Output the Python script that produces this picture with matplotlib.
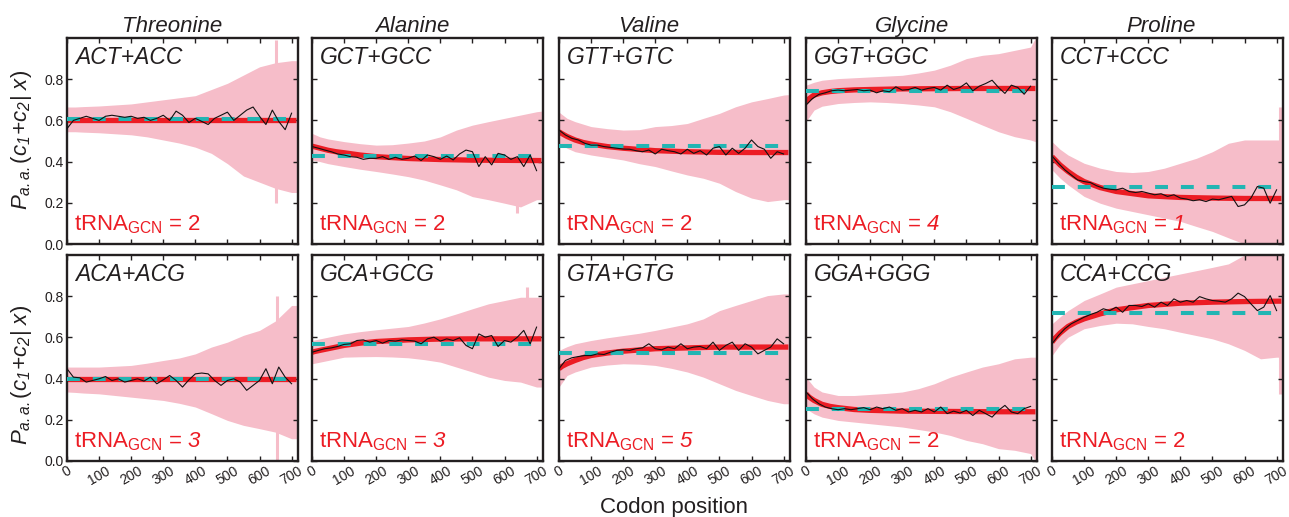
import matplotlib
matplotlib.use("Agg")
import matplotlib.pyplot as plt
import numpy as np

plt.rcParams["font.family"] = ["Liberation Sans", "DejaVu Sans"]
plt.rcParams["mathtext.fontset"] = "custom"
# digits in math fall back to the "rm" font, so rm is italic here and sf is upright
plt.rcParams["mathtext.rm"] = "Liberation Sans:italic"
plt.rcParams["mathtext.it"] = "Liberation Sans:italic"
plt.rcParams["mathtext.sf"] = "Liberation Sans"
plt.rcParams["mathtext.bf"] = "Liberation Sans:bold"

# ---- data ----
AMINO = ["Threonine", "Alanine", "Valine", "Glycine", "Proline"]
CODONS_TOP = ["ACT+ACC", "GCT+GCC", "GTT+GTC", "GGT+GGC", "CCT+CCC"]
CODONS_BOT = ["ACA+ACG", "GCA+GCG", "GTA+GTG", "GGA+GGG", "CCA+CCG"]
GCN_TOP = [2, 2, 2, 4, 1]
GCN_BOT = [3, 3, 5, 2, 2]
UNIFORM_TOP = [0.605, 0.427, 0.476, 0.744, 0.276]
UNIFORM_BOT = [0.396, 0.569, 0.525, 0.254, 0.718]

MEAN_X = np.arange(0, 701, 20)
BAND_X = [0, 25, 50, 100, 150, 200, 250, 300, 350, 400, 450, 500, 550, 600, 650, 700, 715]
FIT_X = [0, 10, 25, 50, 75, 100, 150, 200, 300, 400, 500, 600, 715]

# Threonine ACT+ACC
THR1_MEAN = [0.56, 0.60, 0.61, 0.62, 0.61, 0.60, 0.62, 0.625, 0.62, 0.615, 0.62, 0.61,
             0.615, 0.60, 0.61, 0.625, 0.60, 0.645, 0.625, 0.59, 0.61, 0.595, 0.58, 0.61,
             0.625, 0.64, 0.60, 0.625, 0.65, 0.665, 0.62, 0.58, 0.65, 0.595, 0.555, 0.635]
THR1_FIT = [0.60] * 13
THR1_HI = [0.665, 0.665, 0.667, 0.67, 0.675, 0.68, 0.69, 0.70, 0.71, 0.72, 0.75, 0.78,
           0.82, 0.86, 0.88, 0.89, 0.89]
THR1_LO = [0.545, 0.545, 0.543, 0.54, 0.535, 0.53, 0.52, 0.505, 0.49, 0.47, 0.44, 0.39,
           0.33, 0.30, 0.27, 0.25, 0.25]
THR1_SPIKES = [(650, 0.20, 0.99)]

# Alanine GCT+GCC
ALA1_MEAN = [0.473, 0.465, 0.456, 0.448, 0.437, 0.432, 0.424, 0.421, 0.411, 0.416, 0.416,
             0.424, 0.411, 0.421, 0.411, 0.416, 0.427, 0.405, 0.432, 0.424, 0.411, 0.427,
             0.408, 0.437, 0.456, 0.448, 0.376, 0.424, 0.384, 0.44, 0.432, 0.411, 0.424,
             0.376, 0.432, 0.356]
ALA1_FIT = [0.475, 0.471, 0.465, 0.455, 0.448, 0.443, 0.432, 0.424, 0.415, 0.41, 0.407,
            0.406, 0.405]
ALA1_HI = [0.537, 0.52, 0.51, 0.497, 0.487, 0.48, 0.482, 0.49, 0.50, 0.52, 0.553, 0.577,
           0.594, 0.61, 0.626, 0.642, 0.645]
ALA1_LO = [0.408, 0.40, 0.39, 0.376, 0.363, 0.352, 0.34, 0.327, 0.31, 0.287, 0.263, 0.23,
           0.215, 0.198, 0.18, 0.215, 0.215]
ALA1_SPIKES = [(640, 0.15, 0.60)]

# Valine GTT+GTC
VAL1_MEAN = [0.553, 0.529, 0.513, 0.505, 0.489, 0.48, 0.48, 0.473, 0.469, 0.465, 0.461,
             0.46, 0.453, 0.448, 0.456, 0.437, 0.46, 0.453, 0.448, 0.437, 0.46, 0.44,
             0.453, 0.432, 0.465, 0.473, 0.432, 0.465, 0.44, 0.465, 0.505, 0.473, 0.46,
             0.416, 0.448, 0.437]
VAL1_FIT = [0.545, 0.535, 0.522, 0.505, 0.493, 0.485, 0.473, 0.465, 0.453, 0.448, 0.445,
            0.444, 0.444]
VAL1_HI = [0.64, 0.61, 0.594, 0.57, 0.56, 0.553, 0.555, 0.57, 0.575, 0.585, 0.61, 0.634,
           0.666, 0.69, 0.706, 0.723, 0.725]
VAL1_LO = [0.489, 0.465, 0.448, 0.432, 0.42, 0.408, 0.39, 0.376, 0.355, 0.335, 0.319,
           0.295, 0.255, 0.223, 0.206, 0.215, 0.215]
VAL1_SPIKES = []

# Glycine GGT+GGC
GLY1_MEAN = [0.674, 0.706, 0.726, 0.734, 0.744, 0.747, 0.744, 0.747, 0.75, 0.744, 0.747,
             0.734, 0.744, 0.739, 0.763, 0.747, 0.75, 0.76, 0.747, 0.755, 0.76, 0.747,
             0.771, 0.75, 0.76, 0.782, 0.744, 0.766, 0.779, 0.795, 0.76, 0.731, 0.771,
             0.76, 0.727, 0.766]
GLY1_FIT = [0.69, 0.706, 0.723, 0.734, 0.740, 0.744, 0.748, 0.75, 0.753, 0.754, 0.755,
            0.755, 0.755]
GLY1_HI = [0.771, 0.785, 0.795, 0.803, 0.807, 0.811, 0.815, 0.819, 0.83, 0.844, 0.868,
           0.90, 0.916, 0.924, 0.94, 0.956, 1.0]
GLY1_LO = [0.594, 0.65, 0.669, 0.682, 0.687, 0.69, 0.687, 0.682, 0.675, 0.666, 0.642,
           0.61, 0.577, 0.545, 0.521, 0.505, 0.497]
GLY1_SPIKES = []

# Proline CCT+CCC
PRO1_MEAN = [0.427, 0.392, 0.36, 0.335, 0.311, 0.303, 0.298, 0.282, 0.271, 0.266, 0.263,
             0.271, 0.255, 0.25, 0.255, 0.247, 0.239, 0.244, 0.231, 0.239, 0.223, 0.218,
             0.21, 0.215, 0.206, 0.218, 0.215, 0.223, 0.231, 0.182, 0.19, 0.223, 0.279,
             0.271, 0.198, 0.263]
PRO1_FIT = [0.424, 0.408, 0.384, 0.352, 0.325, 0.303, 0.274, 0.255, 0.234, 0.226, 0.223,
            0.221, 0.221]
PRO1_HI = [0.497, 0.46, 0.432, 0.392, 0.368, 0.352, 0.347, 0.352, 0.368, 0.392, 0.416,
           0.448, 0.489, 0.505, 0.505, 0.505, 0.505]
PRO1_LO = [0.36, 0.32, 0.287, 0.231, 0.198, 0.174, 0.158, 0.142, 0.126, 0.11, 0.085,
           0.061, 0.03, 0.0, 0.0, 0.0, 0.0]
PRO1_SPIKES = [(712, 0.0, 0.666)]

# Threonine ACA+ACG
THR2_MEAN = [0.448, 0.407, 0.404, 0.383, 0.391, 0.399, 0.41, 0.391, 0.399, 0.383, 0.391,
             0.399, 0.388, 0.407, 0.375, 0.394, 0.415, 0.391, 0.359, 0.394, 0.423, 0.427,
             0.423, 0.391, 0.367, 0.391, 0.399, 0.383, 0.343, 0.367, 0.391, 0.448, 0.375,
             0.456, 0.407, 0.375]
THR2_FIT = [0.40] * 13
THR2_HI = [0.456, 0.456, 0.456, 0.456, 0.46, 0.464, 0.475, 0.488, 0.50, 0.52, 0.553,
           0.577, 0.61, 0.634, 0.68, 0.755, 0.755]
THR2_LO = [0.335, 0.333, 0.33, 0.326, 0.318, 0.31, 0.302, 0.294, 0.28, 0.262, 0.23,
           0.197, 0.173, 0.157, 0.14, 0.108, 0.108]
THR2_SPIKES = [(655, 0.0, 0.80)]

# Alanine GCA+GCG
ALA2_MEAN = [0.528, 0.537, 0.545, 0.549, 0.556, 0.566, 0.569, 0.585, 0.588, 0.577, 0.585,
             0.572, 0.585, 0.582, 0.588, 0.585, 0.582, 0.569, 0.593, 0.601, 0.582, 0.593,
             0.585, 0.598, 0.561, 0.545, 0.617, 0.601, 0.609, 0.556, 0.585, 0.577, 0.601,
             0.634, 0.569, 0.65]
ALA2_FIT = [0.528, 0.532, 0.537, 0.545, 0.553, 0.561, 0.572, 0.58, 0.588, 0.592, 0.593,
            0.593, 0.593]
ALA2_HI = [0.585, 0.593, 0.601, 0.617, 0.628, 0.637, 0.645, 0.653, 0.67, 0.69, 0.714,
           0.739, 0.763, 0.779, 0.795, 0.795, 0.795]
ALA2_LO = [0.472, 0.48, 0.488, 0.504, 0.506, 0.507, 0.505, 0.501, 0.492, 0.48, 0.456,
           0.432, 0.407, 0.391, 0.383, 0.359, 0.359]
ALA2_SPIKES = [(670, 0.38, 0.844)]

# Valine GTA+GTG
VAL2_MEAN = [0.448, 0.488, 0.501, 0.507, 0.512, 0.512, 0.52, 0.517, 0.528, 0.537, 0.54,
             0.537, 0.545, 0.549, 0.569, 0.545, 0.54, 0.553, 0.545, 0.569, 0.545, 0.553,
             0.556, 0.545, 0.577, 0.537, 0.561, 0.577, 0.537, 0.569, 0.553, 0.52, 0.537,
             0.553, 0.593, 0.569]
VAL2_FIT = [0.448, 0.46, 0.472, 0.488, 0.502, 0.512, 0.524, 0.533, 0.545, 0.549, 0.553,
            0.553, 0.553]
VAL2_HI = [0.537, 0.555, 0.569, 0.585, 0.598, 0.609, 0.62, 0.634, 0.65, 0.666, 0.69,
           0.73, 0.755, 0.779, 0.803, 0.811, 0.811]
VAL2_LO = [0.359, 0.415, 0.432, 0.456, 0.466, 0.472, 0.47, 0.464, 0.45, 0.432, 0.407,
           0.375, 0.343, 0.318, 0.294, 0.278, 0.278]
VAL2_SPIKES = []

# Glycine GGA+GGG
GLY2_MEAN = [0.335, 0.302, 0.278, 0.262, 0.254, 0.249, 0.254, 0.249, 0.254, 0.259, 0.249,
             0.262, 0.254, 0.262, 0.246, 0.254, 0.238, 0.246, 0.238, 0.254, 0.238, 0.262,
             0.23, 0.242, 0.233, 0.246, 0.221, 0.246, 0.23, 0.213, 0.246, 0.27, 0.238,
             0.23, 0.254, 0.265]
GLY2_FIT = [0.326, 0.31, 0.294, 0.275, 0.265, 0.259, 0.25, 0.246, 0.242, 0.241, 0.24,
            0.239, 0.239]
GLY2_HI = [0.407, 0.359, 0.335, 0.318, 0.318, 0.323, 0.328, 0.335, 0.351, 0.375, 0.407,
           0.432, 0.456, 0.472, 0.496, 0.504, 0.504]
GLY2_LO = [0.254, 0.229, 0.213, 0.197, 0.189, 0.181, 0.173, 0.165, 0.153, 0.141, 0.124,
           0.10, 0.084, 0.06, 0.052, 0.036, 0.0]
GLY2_SPIKES = []

# Proline CCA+CCG
PRO2_MEAN = [0.569, 0.609, 0.642, 0.666, 0.682, 0.698, 0.711, 0.722, 0.739, 0.73, 0.747,
             0.722, 0.755, 0.755, 0.75, 0.763, 0.747, 0.771, 0.755, 0.787, 0.771, 0.779,
             0.771, 0.798, 0.787, 0.779, 0.776, 0.771, 0.787, 0.815, 0.798, 0.763, 0.73,
             0.747, 0.803, 0.73]
PRO2_FIT = [0.577, 0.597, 0.621, 0.653, 0.674, 0.69, 0.714, 0.734, 0.755, 0.766, 0.771,
            0.774, 0.776]
PRO2_HI = [0.666, 0.70, 0.73, 0.779, 0.811, 0.844, 0.86, 0.876, 0.892, 0.908, 0.924,
           0.94, 0.957, 1.0, 1.0, 1.0, 1.0]
PRO2_LO = [0.512, 0.565, 0.601, 0.642, 0.658, 0.669, 0.666, 0.653, 0.642, 0.625, 0.609,
           0.593, 0.569, 0.537, 0.496, 0.504, 0.504]
PRO2_SPIKES = [(712, 0.326, 1.0)]

PANELS = [
    [(THR1_MEAN, THR1_FIT, THR1_HI, THR1_LO, THR1_SPIKES),
     (ALA1_MEAN, ALA1_FIT, ALA1_HI, ALA1_LO, ALA1_SPIKES),
     (VAL1_MEAN, VAL1_FIT, VAL1_HI, VAL1_LO, VAL1_SPIKES),
     (GLY1_MEAN, GLY1_FIT, GLY1_HI, GLY1_LO, GLY1_SPIKES),
     (PRO1_MEAN, PRO1_FIT, PRO1_HI, PRO1_LO, PRO1_SPIKES)],
    [(THR2_MEAN, THR2_FIT, THR2_HI, THR2_LO, THR2_SPIKES),
     (ALA2_MEAN, ALA2_FIT, ALA2_HI, ALA2_LO, ALA2_SPIKES),
     (VAL2_MEAN, VAL2_FIT, VAL2_HI, VAL2_LO, VAL2_SPIKES),
     (GLY2_MEAN, GLY2_FIT, GLY2_HI, GLY2_LO, GLY2_SPIKES),
     (PRO2_MEAN, PRO2_FIT, PRO2_HI, PRO2_LO, PRO2_SPIKES)],
]

# ---- style ----
PINK = "#F6BDC9"
RED = "#EC1C24"
CYAN = "#22B5B3"
DARK = "#231F20"

FIG_W, FIG_H = 1289, 517
LEFTS_PX = [67, 312, 559, 806, 1052]
TOPS_PX = [38, 255]
AX_W, AX_H = 231, 206
TITLE_X = [0.455, 0.433, 0.39, 0.459, 0.472]
YLABEL_Y_PX = [139.5, 374.5]
YLABEL = r"$P_{a.a.}\mathsf{(}c_1\!+\!c_2\mathsf{|}\ x\mathsf{)}$"


def main() -> None:
    fig = plt.figure(figsize=(FIG_W / 100, FIG_H / 100), dpi=100)

    for r in range(2):
        for c in range(5):
            mean, fit, hi, lo, spikes = PANELS[r][c]
            left = LEFTS_PX[c] / FIG_W
            bottom = 1 - (TOPS_PX[r] + AX_H) / FIG_H
            ax = fig.add_axes([left, bottom, AX_W / FIG_W, AX_H / FIG_H])

            ax.fill_between(BAND_X, lo, hi, color=PINK, linewidth=0, zorder=1)
            for sx, slo, shi in spikes:
                ax.vlines(sx, slo, shi, color=PINK, linewidth=2.2, zorder=1)
            ax.plot(FIT_X, fit, color=RED, linewidth=3.8, solid_capstyle="butt", zorder=2)
            level = UNIFORM_TOP[c] if r == 0 else UNIFORM_BOT[c]
            ax.plot([0, 720], [level, level], color=CYAN, linewidth=2.9,
                    dashes=(3.2, 3.2), zorder=3)
            ax.plot(MEAN_X, mean, color="#111111", linewidth=0.8, zorder=4)

            ax.set_xlim(0, 720)
            ax.set_ylim(0, 1.0)
            ax.set_xticks(np.arange(0, 701, 100))
            ax.set_yticks([0.0, 0.2, 0.4, 0.6, 0.8])
            ax.tick_params(direction="in", top=True, right=True, length=3.5, width=1.0,
                           color=DARK, labelsize=10, labelcolor=DARK)
            ax.tick_params(axis="x", pad=2)
            ax.tick_params(axis="y", pad=2.5)
            for sp in ax.spines.values():
                sp.set_linewidth(1.7)
                sp.set_color(DARK)

            if r == 1:
                ax.set_xticklabels([str(v) for v in range(0, 701, 100)], rotation=30, ha="center")
            else:
                ax.set_xticklabels([])
            if c == 0:
                ax.set_yticklabels(["0.0", "0.2", "0.4", "0.6", "0.8"])
            else:
                ax.set_yticklabels([])

            if r == 0:
                ax.text(TITLE_X[c], 1.03, AMINO[c], transform=ax.transAxes, ha="center",
                        va="baseline", fontsize=16, style="italic", color=DARK)

            codon = CODONS_TOP[c] if r == 0 else CODONS_BOT[c]
            ax.text(0.035, 0.874, codon, transform=ax.transAxes, ha="left", va="baseline",
                    fontsize=16.5, style="italic", color=DARK, zorder=5)

            gcn = GCN_TOP[c] if r == 0 else GCN_BOT[c]
            num = str(gcn) if gcn == 2 else "$" + str(gcn) + "$"
            ax.text(0.03, 0.065, r"tRNA$_{\mathsf{GCN}}$ = " + num, transform=ax.transAxes,
                    ha="left", va="baseline", fontsize=16, color=RED, zorder=5)

        fig.text(22 / FIG_W, 1 - YLABEL_Y_PX[r] / FIG_H, YLABEL,
                 rotation=90, ha="center", va="center", fontsize=16, color=DARK)

    fig.text(674 / FIG_W, 4 / FIG_H, "Codon position", ha="center", va="baseline",
             fontsize=16, color=DARK)

    fig.savefig("out.png", dpi=100)
    plt.close(fig)


if __name__ == "__main__":
    main()
